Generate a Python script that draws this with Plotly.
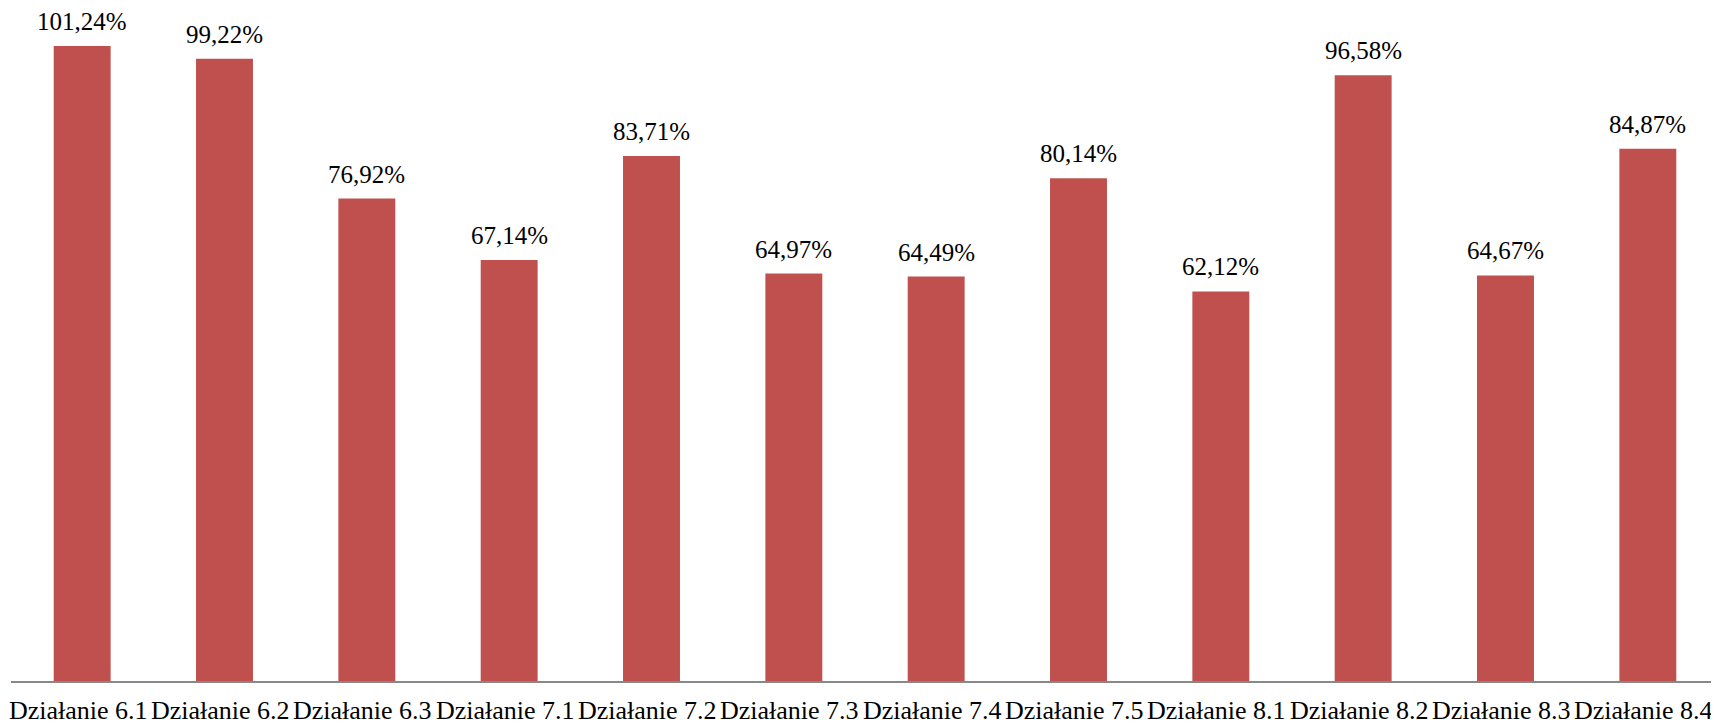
import plotly.graph_objects as go

categories = ["Działanie 6.1", "Działanie 6.2", "Działanie 6.3", "Działanie 7.1",
              "Działanie 7.2", "Działanie 7.3", "Działanie 7.4", "Działanie 7.5",
              "Działanie 8.1", "Działanie 8.2", "Działanie 8.3", "Działanie 8.4"]
values = [101.24, 99.22, 76.92, 67.14, 83.71, 64.97, 64.49, 80.14, 62.12, 96.58, 64.67, 84.87]

fig = go.Figure(go.Bar(
    x=categories, y=values,
    marker=dict(color="#C0504D", line=dict(width=0)),
    hoverinfo="x+y",
))

# value labels above bars
for c, v in zip(categories, values):
    fig.add_annotation(
        x=c, y=v, text=f"{v:.2f}%".replace(".", ","),
        showarrow=False, yanchor="bottom", yshift=9,
        font=dict(family="Liberation Serif", size=25, color="#000000"),
    )

# category labels below the axis
for c in categories:
    fig.add_annotation(
        x=c, y=0, text=c,
        showarrow=False, yanchor="top", yshift=-13, xshift=-4,
        font=dict(family="Liberation Serif", size=26, color="#000000"),
    )

fig.update_layout(
    width=1711, height=718,
    margin=dict(l=3, r=0, t=0, b=45, autoexpand=False),
    paper_bgcolor="white", plot_bgcolor="white",
    bargap=0.6,
    showlegend=False,
    font=dict(family="Liberation Serif", color="#000000"),
    xaxis=dict(showline=True, linecolor="#888888", linewidth=1.5,
               automargin=False, showticklabels=False,
               range=[-0.5, len(categories) - 0.5],
               ticks="", showgrid=False),
    yaxis=dict(range=[0, 107.3], visible=False, showgrid=False, automargin=False),
)

fig.write_html("out.html")
